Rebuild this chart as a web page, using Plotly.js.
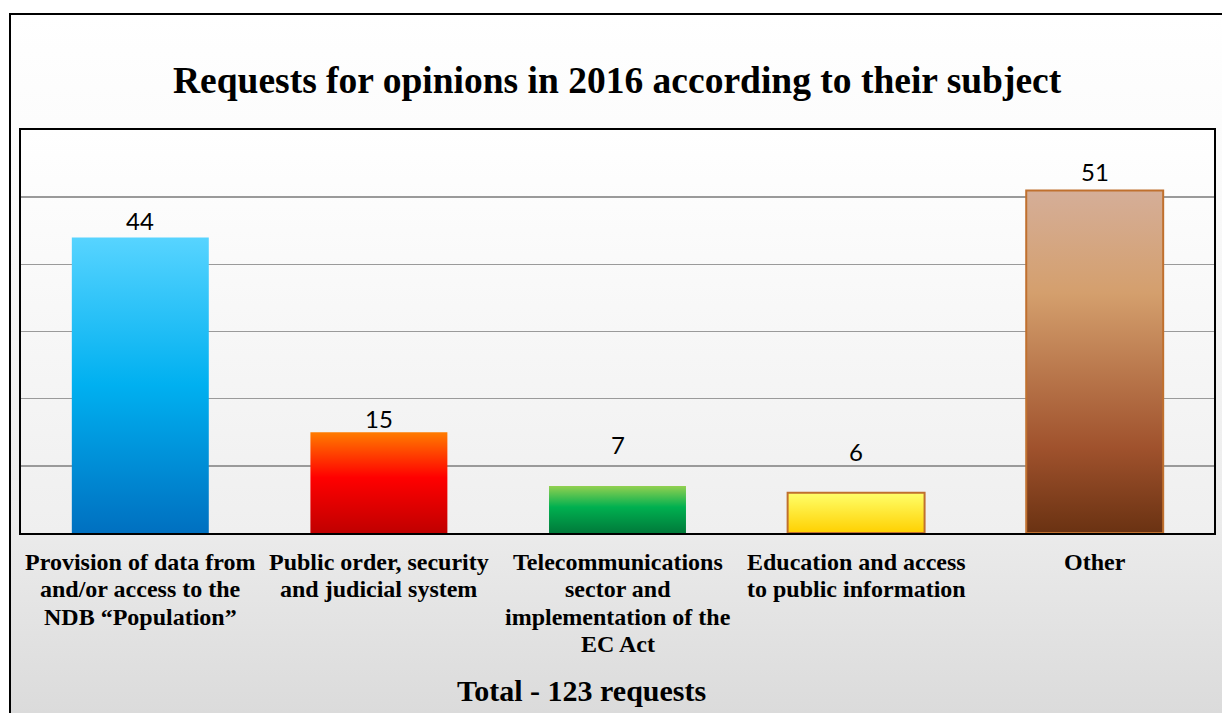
<!DOCTYPE html>
<html>
<head>
<meta charset="utf-8">
<script src="https://cdn.plot.ly/plotly-3.0.1.min.js"></script>
<style>
  html, body { margin: 0; padding: 0; width: 1222px; height: 713px; overflow: hidden; background: #ffffff; }
  #frame { position: absolute; left: 9px; top: 13px; width: 1240px; height: 720px;
           border-left: 2px solid #000; border-top: 2px solid #000;
           background: linear-gradient(to bottom, #ffffff 0%, #fafafa 25%, #ececec 70%, #d9d9d9 100%); }
  #chart { position: absolute; left: 0; top: 0; width: 1222px; height: 713px; }
</style>
</head>
<body>
<div id="frame"></div>
<div id="chart"></div>
<script>
const categories = [
  "Provision of data from<br>and/or access to the<br>NDB \u201cPopulation\u201d",
  "Public order, security<br>and judicial system",
  "Telecommunications<br>sector and<br>implementation of the<br>EC Act",
  "Education and access<br>to public information",
  "Other"
];
const values = [44, 15, 7, 6, 51];
const titleText = "Requests for opinions in 2016 according to their subject";
const totalText = "Total - 123 requests";

const gradients = [
  [["0%", "#57d4ff"], ["50%", "#00b0f0"], ["100%", "#0070c0"]],
  [["0%", "#ff7c00"], ["45%", "#ff0000"], ["100%", "#c00000"]],
  [["0%", "#92d050"], ["45%", "#00b050"], ["100%", "#007a3a"]],
  [["0%", "#ffff6a"], ["100%", "#ffd000"]],
  [["0%", "#d5ae98"], ["30%", "#d49f6d"], ["75%", "#a0522d"], ["100%", "#6a3212"]]
];
const lineColors = ["rgba(0,0,0,0)", "rgba(0,0,0,0)", "rgba(0,0,0,0)", "#c0702e", "#c0702e"];

const serif = "'Liberation Serif', 'Times New Roman', serif";

const trace = {
  type: "bar",
  x: categories,
  y: values,
  marker: { color: ["#00b0f0", "#ff0000", "#00b050", "#ffe000", "#b06a3a"],
            line: { color: lineColors, width: 2 } },
  hoverinfo: "none"
};

// value labels (lifted above bar tops, in pixels)
const labelLift = [17, 14, 41, 41, 19];
const annotations = [];
values.forEach(function (v, i) {
  annotations.push({
    text: String(v), x: categories[i], y: v, xref: "x", yref: "y",
    xanchor: "center", yanchor: "middle", yshift: labelLift[i], showarrow: false,
    font: { family: "Lato, 'Open Sans', sans-serif", size: 24, color: "#000" }
  });
});
// category labels, one annotation per line for tight line spacing
const firstLineOffset = 29;   // px below plot bottom to the center of line 1
const lineStep = 27.4;
categories.forEach(function (c, i) {
  c.split("<br>").forEach(function (line, k) {
    annotations.push({
      text: line, x: categories[i], y: 0, xref: "x", yref: "paper",
      xanchor: "center", yanchor: "middle", yshift: -(firstLineOffset + k * lineStep), showarrow: false,
      font: { family: serif, size: 24, color: "#000", weight: "bold" }
    });
  });
});
annotations.push({
  text: totalText, xref: "paper", yref: "paper", x: 0.47, y: 0, yshift: -157,
  xanchor: "center", yanchor: "middle", showarrow: false,
  font: { family: serif, size: 30, color: "#000", weight: "bold" }
});

const layout = {
  width: 1222, height: 713,
  margin: { l: 21, r: 8, t: 130, b: 180 },
  paper_bgcolor: "rgba(0,0,0,0)",
  plot_bgcolor: "#f8f8f8",
  bargap: 0.426,
  showlegend: false,
  title: { text: titleText, x: 0.505, xanchor: "center", y: 0.888, yanchor: "middle",
           font: { family: serif, size: 37.5, color: "#000", weight: "bold" } },
  xaxis: {
    showticklabels: false,
    showline: true, linecolor: "#000", linewidth: 2, mirror: true,
    ticks: "", showgrid: false, fixedrange: true
  },
  yaxis: {
    range: [0, 60], dtick: 10, showticklabels: false, ticks: "",
    showgrid: true, gridcolor: "#9a9a9a", gridwidth: 1.5,
    showline: true, linecolor: "#000", linewidth: 2, mirror: true,
    zeroline: false, fixedrange: true
  },
  annotations: annotations
};

Plotly.newPlot("chart", [trace], layout, { staticPlot: true, displayModeBar: false }).then(function (gd) {
  const svgNS = "http://www.w3.org/2000/svg";
  const svg = gd.querySelector("svg.main-svg");
  let defs = svg.querySelector("defs");
  if (!defs) { defs = document.createElementNS(svgNS, "defs"); svg.insertBefore(defs, svg.firstChild); }
  function addGrad(id, stops) {
    const g = document.createElementNS(svgNS, "linearGradient");
    g.setAttribute("id", id);
    g.setAttribute("x1", "0"); g.setAttribute("y1", "0");
    g.setAttribute("x2", "0"); g.setAttribute("y2", "1");
    stops.forEach(function (s) {
      const st = document.createElementNS(svgNS, "stop");
      st.setAttribute("offset", s[0]);
      st.setAttribute("stop-color", s[1]);
      g.appendChild(st);
    });
    defs.appendChild(g);
  }
  gradients.forEach(function (st, i) { addGrad("bargrad" + i, st); });
  addGrad("plotgrad", [["0%", "#ffffff"], ["100%", "#efefef"]]);
  const bars = gd.querySelectorAll(".barlayer .point path");
  bars.forEach(function (p, i) { p.style.fill = "url(#bargrad" + i + ")"; });
  const bg = gd.querySelector(".bglayer rect.bg");
  if (bg) bg.style.fill = "url(#plotgrad)";
});
</script>
</body>
</html>
